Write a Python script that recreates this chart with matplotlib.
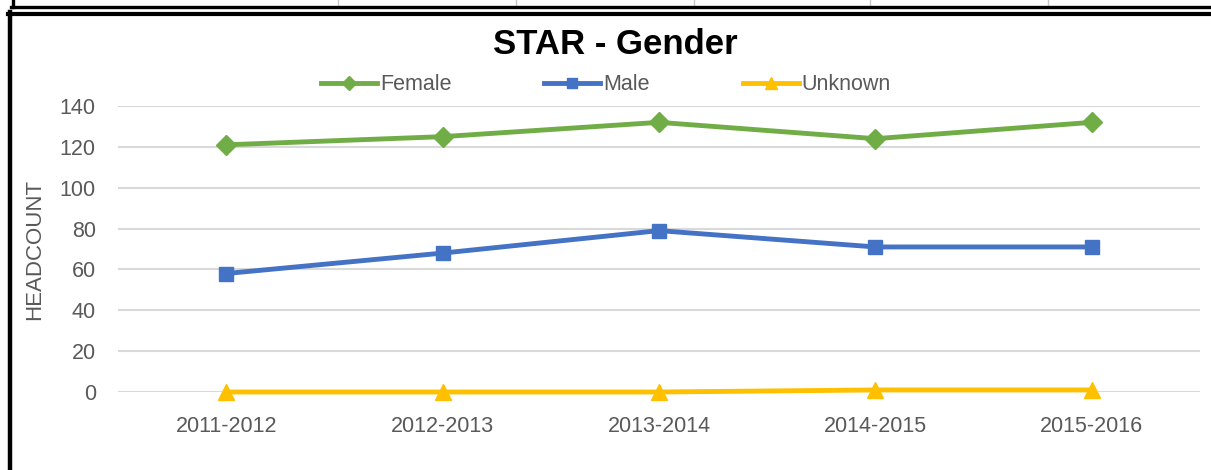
import matplotlib
matplotlib.use("Agg")
import matplotlib.pyplot as plt
from matplotlib.lines import Line2D

# data
years = ["2011-2012", "2012-2013", "2013-2014", "2014-2015", "2015-2016"]
female = [121, 125, 132, 124, 132]
male = [58, 68, 79, 71, 71]
unknown = [0, 0, 0, 1, 1]
yticks = [0, 20, 40, 60, 80, 100, 120, 140]

W, H = 1211, 470
plt.rcParams['font.family'] = ['Liberation Sans', 'DejaVu Sans']
grey = '#595959'

fig = plt.figure(figsize=(W / 100, H / 100), dpi=100)
ax = fig.add_axes([118 / W, 1 - 392 / H, (1200 - 118) / W, (392 - 106) / H])

x = range(len(years))
ax.plot(x, female, color='#70AD47', lw=3.5, marker='D', ms=10, label='Female')
ax.plot(x, male, color='#4472C4', lw=3.5, marker='s', ms=10.5, label='Male')
ax.plot(x, unknown, color='#FFC000', lw=3.5, marker='^', ms=12, label='Unknown',
        clip_on=False)

ax.set_xlim(-0.5, len(years) - 0.5)
ax.set_ylim(0, 140)
ax.set_yticks(yticks)
ax.set_xticks(list(x))
ax.set_xticklabels(years)
ax.tick_params(length=0, labelsize=15.5, labelcolor=grey)
ax.tick_params(axis='y', pad=16)
ax.tick_params(axis='x', pad=17)
ax.grid(axis='y', color='#D9D9D9', lw=1.5)
ax.set_axisbelow(True)
for s in ax.spines.values():
    s.set_visible(False)

fig.text(615 / W, 1 - 44 / H, 'STAR - Gender', ha='center', va='center',
         fontsize=25, fontweight='bold', color='black')
fig.text(35 / W, 1 - 249 / H, 'HEADCOUNT', rotation=90, ha='center', va='center',
         fontsize=16, color=grey)

handles = [
    Line2D([], [], color='#70AD47', lw=3.5, marker='D', ms=7),
    Line2D([], [], color='#4472C4', lw=3.5, marker='s', ms=7),
    Line2D([], [], color='#FFC000', lw=3.5, marker='^', ms=8),
]
fig.legend(handles, ['Female', 'Male', 'Unknown'], ncol=3, loc='center',
           bbox_to_anchor=(606 / W, 1 - 85 / H), frameon=False, fontsize=15.5,
           handlelength=2.6, handletextpad=0.15, columnspacing=4.3,
           labelcolor=grey)

# borders around the chart (sheet cells and chart frame)
def hline(y, x0, x1, lw, c='black'):
    fig.add_artist(Line2D([x0 / W, x1 / W], [1 - y / H, 1 - y / H], lw=lw, color=c,
                          transform=fig.transFigure))

def vline(xp, y0, y1, lw, c='black'):
    fig.add_artist(Line2D([xp / W, xp / W], [1 - y0 / H, 1 - y1 / H], lw=lw, color=c,
                          transform=fig.transFigure))

for xp in [338, 516, 694, 870, 1048]:
    vline(xp, 0, 6, 1, '#C8C8C8')
hline(7, 11, W, 2.4)
vline(13, 0, 7, 2.4)
hline(13.5, 8, W, 3.0)
vline(10, 12, H, 3.2)

fig.savefig('out.png', dpi=100)
